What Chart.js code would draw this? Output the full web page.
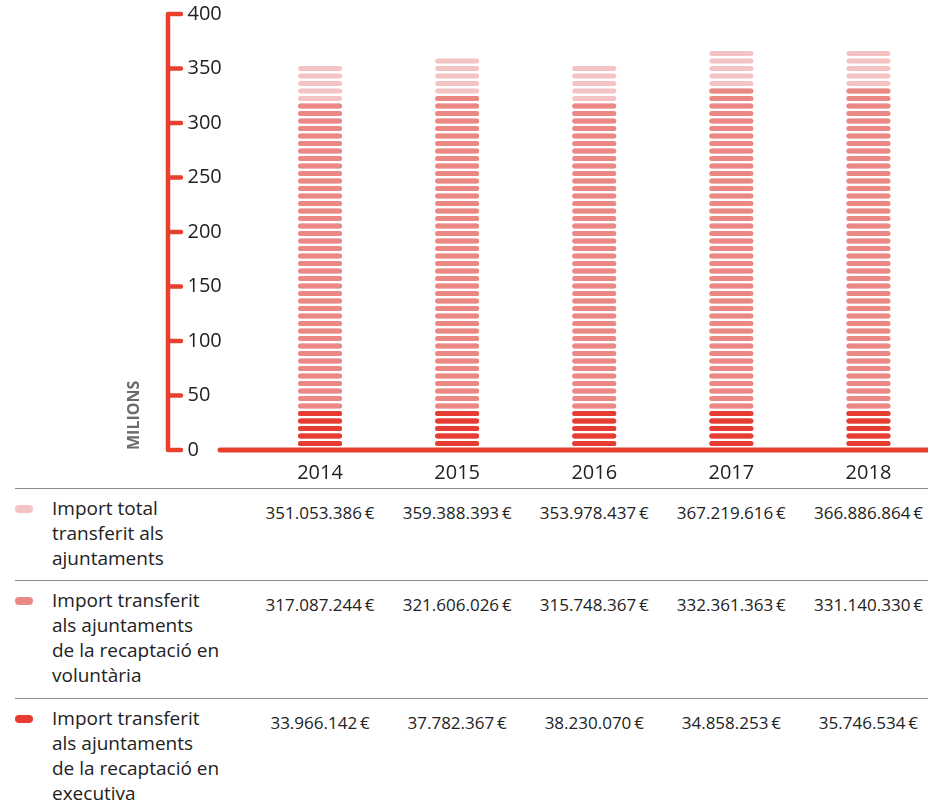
<!DOCTYPE html>
<html>
<head>
<meta charset="utf-8">
<script src="https://cdn.jsdelivr.net/npm/chart.js@4/dist/chart.umd.min.js"></script>
<style>
  body { margin: 0; width: 928px; height: 810px; overflow: hidden; background: #fff; font-family: "Open Sans", sans-serif; color: #222; }
  #wrap { position: relative; width: 937px; height: 488px; }
  #table { position: relative; width: 928px; height: 322px; }
  .row { position: absolute; left: 15px; right: 0; border-top: 1.5px solid #8c8c8c; }
  .marker { position: absolute; left: 0; top: 16px; width: 18px; height: 8px; border-radius: 4px; }
  .label { position: absolute; left: 37px; top: 7px; font-size: 19px; line-height: 25px; white-space: pre-line; }
  .value { position: absolute; top: 11px; font-size: 17px; line-height: 25px; text-align: center; white-space: nowrap; }
</style>
</head>
<body>
<div id="wrap"><canvas id="chart" width="937" height="488"></canvas></div>
<div id="table"></div>
<script>
// Dades (euros)
var years = ['2014', '2015', '2016', '2017', '2018'];
var totalEur = [351053386, 359388393, 353978437, 367219616, 366886864];
var voluntariaEur = [317087244, 321606026, 315748367, 332361363, 331140330];
var executivaEur = [33966142, 37782367, 38230070, 34858253, 35746534];

var seriesLabels = [
    'Import total\ntransferit als\najuntaments',
    'Import transferit\nals ajuntaments\nde la recaptació en\nvoluntària',
    'Import transferit\nals ajuntaments\nde la recaptació en\nexecutiva'
];
var seriesColors = ['#f5c3c3', '#ec8884', '#e63c31'];
var axisRed = '#e8402f';

function toMillions(arr) {
    return arr.map(function (v) { return v / 1000000; });
}

function formatEur(n) {
    return String(n).replace(/\B(?=(\d{3})+(?!\d))/g, '.') + '\u2009€';
}

// draws each bar as a stack of rounded dashes, plus the red axis lines
var dashBars = {
    id: 'dashBars',
    beforeDatasetsDraw: function (chart) {
        var ctx = chart.ctx;
        var yScale = chart.scales.y;
        var zero = yScale.getPixelForValue(0);
        var pitch = 7.5, dashH = 5;

        ctx.save();
        ctx.lineCap = 'round';
        ctx.strokeStyle = axisRed;

        // y axis line + ticks
        ctx.lineWidth = 4.5;
        ctx.beginPath();
        ctx.moveTo(168, yScale.getPixelForValue(yScale.max));
        ctx.lineTo(168, zero);
        yScale.ticks.forEach(function (t) {
            var py = yScale.getPixelForValue(t.value);
            ctx.moveTo(168, py);
            ctx.lineTo(181, py);
        });
        ctx.stroke();

        // x axis line
        ctx.lineWidth = 5;
        ctx.beginPath();
        ctx.moveTo(220, zero);
        ctx.lineTo(chart.width + 5, zero);
        ctx.stroke();

        // dashed bars, total first so the others sit on top
        ctx.lineWidth = dashH;
        chart.data.datasets.forEach(function (ds, i) {
            var meta = chart.getDatasetMeta(i);
            ctx.strokeStyle = ds.backgroundColor;
            meta.data.forEach(function (el) {
                var p = el.getProps(['x', 'y', 'base', 'width'], true);
                var n = Math.floor((p.base - p.y + 2) / pitch);
                var x0 = p.x - p.width / 2 + dashH / 2;
                var x1 = p.x + p.width / 2 - dashH / 2;
                ctx.beginPath();
                for (var k = 0; k < n; k++) {
                    var cy = p.base - 4 - dashH / 2 - k * pitch;
                    ctx.moveTo(x0, cy);
                    ctx.lineTo(x1, cy);
                }
                ctx.stroke();
            });
        });
        ctx.restore();
        return false;
    }
};

var chart = new Chart(document.getElementById('chart'), {
    type: 'bar',
    data: {
        labels: years,
        datasets: [
            { label: 'total', data: toMillions(totalEur), backgroundColor: seriesColors[0] },
            { label: 'voluntaria', data: toMillions(voluntariaEur), backgroundColor: seriesColors[1] },
            { label: 'executiva', data: toMillions(executivaEur), backgroundColor: seriesColors[2] }
        ]
    },
    options: {
        responsive: false,
        animation: false,
        layout: { padding: { top: 14, left: 0, right: 0, bottom: 0 } },
        datasets: { bar: { grouped: false, barThickness: 44 } },
        plugins: { legend: { display: false }, tooltip: { enabled: false } },
        scales: {
            x: {
                offset: true,
                grid: { display: false, drawTicks: false },
                border: { display: false },
                ticks: { color: '#222', padding: 11, font: { family: 'Open Sans', size: 20 } },
                afterFit: function (s) { s.height = 38; }
            },
            y: {
                min: 0,
                max: 400,
                grid: { display: false, drawTicks: false },
                border: { display: false },
                ticks: {
                    stepSize: 50, mirror: true, padding: -64, color: '#222',
                    font: { family: 'Open Sans', size: 20 }
                },
                title: {
                    display: true, text: 'MILIONS', align: 'start', color: '#6b6b6b',
                    font: { family: 'Open Sans', size: 16, weight: 'bold' },
                    padding: { top: 125, bottom: 0 }
                },
                afterFit: function (s) { s.width = 251.5; }
            }
        }
    },
    plugins: [dashBars]
});

// taula de valors sota el gràfic
var rowTops = [0, 92, 210];
var rowHeights = [92, 118, 112];
var rowData = [totalEur, voluntariaEur, executivaEur];
var table = document.getElementById('table');
var xScale = chart.scales.x;

rowData.forEach(function (vals, r) {
    var row = document.createElement('div');
    row.className = 'row';
    row.style.top = rowTops[r] + 'px';
    row.style.height = rowHeights[r] + 'px';

    var marker = document.createElement('div');
    marker.className = 'marker';
    marker.style.background = seriesColors[r];
    row.appendChild(marker);

    var label = document.createElement('div');
    label.className = 'label';
    label.textContent = seriesLabels[r];
    row.appendChild(label);

    vals.forEach(function (v, i) {
        var cx = xScale.getPixelForValue(i);
        var cell = document.createElement('div');
        cell.className = 'value';
        cell.style.left = (cx - 15 - 70) + 'px';
        cell.style.width = '140px';
        cell.textContent = formatEur(v);
        row.appendChild(cell);
    });
    table.appendChild(row);
});
</script>
</body>
</html>
